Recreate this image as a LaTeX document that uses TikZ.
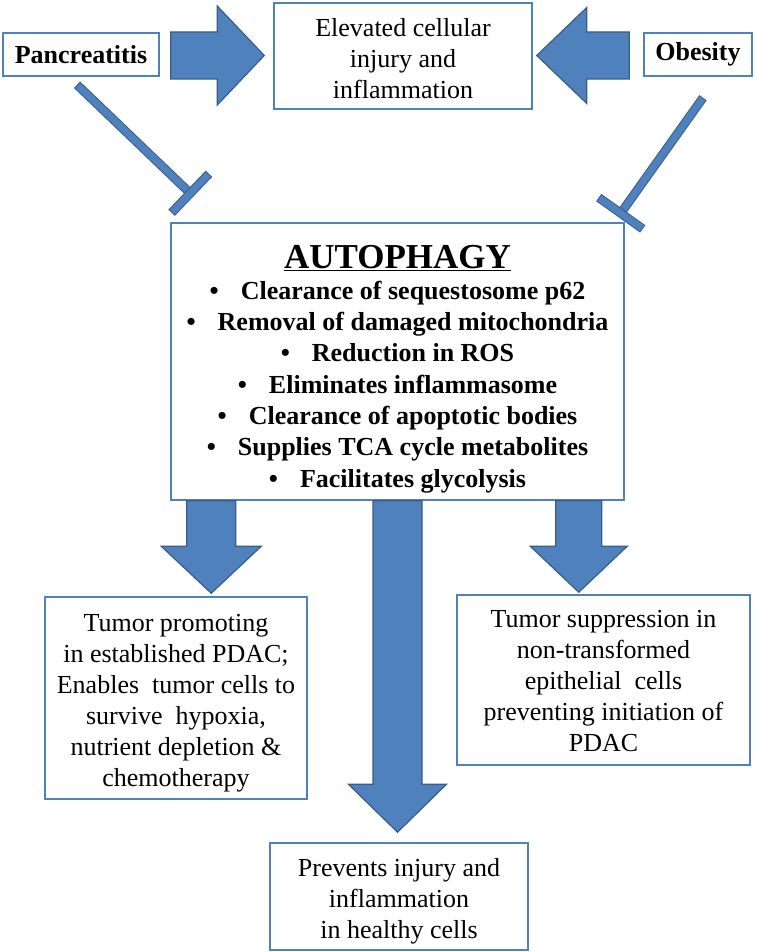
\documentclass[tikz,border=0pt]{standalone}
\usepackage{fontspec}
\setmainfont{Liberation Serif}
\usetikzlibrary{calc}
\definecolor{apblue}{HTML}{4F81BD}
\definecolor{apedge}{HTML}{385D8A}

% fat block arrows, sideways and downwards
\newcommand{\fatside}[5]{% start, tip, shaft half width, head half width, head length (signed)
  \filldraw[blockarrow] let \p1=(#1), \p2=(#2) in
    (\x1,\y1+#3) -- ({\x2-(#5)},\y1+#3) -- ({\x2-(#5)},\y1+#4) -- (\x2,\y1)
    -- ({\x2-(#5)},\y1-#4) -- ({\x2-(#5)},\y1-#3) -- (\x1,\y1-#3) -- cycle;}
\newcommand{\fatdown}[5]{% start, tip, shaft half width, head half width, head length
  \filldraw[blockarrow] let \p1=(#1), \p2=(#2) in
    (\x1-#3,\y1) -- (\x1+#3,\y1) -- (\x1+#3,\y2+#5) -- (\x1+#4,\y2+#5) -- (\x1,\y2)
    -- (\x1-#4,\y2+#5) -- (\x1-#3,\y2+#5) -- cycle;}
% inhibition line with a bar at the end
\newcommand{\inhibit}[2]{%
  \draw[inhibedge] (#1) -- (#2);
  \draw[inhibfill] (#1) -- (#2);
  \draw[inhibedge] ($(#2)!27pt!90:(#1)$) -- ($(#2)!27pt!-90:(#1)$);
  \draw[inhibfill] ($(#2)!27pt!90:(#1)$) -- ($(#2)!27pt!-90:(#1)$);}
% strut that pushes the first line down a little
\newcommand{\topstrut}[1]{\rule{0pt}{#1}}

\begin{document}
\begin{tikzpicture}[x=1pt, y=-1pt,
    box/.style={draw=apblue, line width=1.5pt, fill=white, align=center, inner sep=0pt,
      font=\fontsize{26}{31}\selectfont},
    blockarrow/.style={fill=apblue, draw=apedge, line width=1.2pt, line join=miter},
    inhibedge/.style={draw=apedge, line width=9pt},
    inhibfill/.style={draw=apblue, line width=7pt, shorten <=1pt, shorten >=1pt}]
  \useasboundingbox (0,0) rectangle (756,952);

  % top row
  \node[box, minimum width=156pt, minimum height=43pt] (panc) at (81,54.5) {\textbf{Pancreatitis}};
  \node[box, minimum width=258pt, minimum height=106pt] (elev) at (403,56)
    {\topstrut{24pt}Elevated cellular\\ injury and\\ inflammation};
  \node[box, minimum width=108pt, minimum height=43pt] (obes) at (698,54.5) {\textbf{Obesity}};

  % autophagy
  \node[box, minimum width=453pt, minimum height=277pt, font=\bfseries\fontsize{26}{31.3}\selectfont]
    (auto) at (397.5,361.5)
    {{\fontsize{35}{31.3}\selectfont\topstrut{38pt}\underline{AUTOPHAGY}}\\
     \textbullet\hspace{22pt}Clearance of sequestosome p62\\
     \textbullet\hspace{22pt}Removal of damaged mitochondria\\
     \textbullet\hspace{22pt}Reduction in ROS\\
     \textbullet\hspace{22pt}Eliminates inflammasome\\
     \textbullet\hspace{22pt}Clearance of apoptotic bodies\\
     \textbullet\hspace{22pt}Supplies TCA cycle metabolites\\
     \textbullet\hspace{22pt}Facilitates glycolysis};

  % outcomes
  \node[box, minimum width=262pt, minimum height=202pt] (promo) at (176,698)
    {\topstrut{28pt}Tumor promoting\\ in established PDAC;\\ Enables\ \ tumor cells to\\
     survive\ \ hypoxia,\\ nutrient depletion \&\\ chemotherapy};
  \node[box, minimum width=293pt, minimum height=170pt] (supp) at (603.5,680)
    {\topstrut{20pt}Tumor suppression in\\ non-transformed\\ epithelial\ \ cells\\
     preventing initiation of\\ PDAC};
  \node[box, minimum width=258pt, minimum height=107pt] (prev) at (399,896.5)
    {\topstrut{28pt}Prevents injury and\\ inflammation\\ in healthy cells};

  % block arrows
  \fatside{$(panc.east)+(11,1)$}{$(elev.west)+(-9,0)$}{23.5pt}{49.5pt}{47pt}
  \fatside{$(obes.west)+(-14,1)$}{$(elev.east)+(4,0)$}{23.5pt}{48pt}{-50pt}
  \fatdown{$(auto.south west)+(41,0)$}{$(promo.north)+(0,-3)$}{24.5pt}{50pt}{47pt}
  \fatdown{auto.south}{$(prev.north)+(0,-10)$}{24.5pt}{49pt}{48pt}
  \fatdown{$(auto.south east)+(-46,0)$}{$(supp.north)+(0,-2)$}{23pt}{48.5pt}{46pt}

  % inhibitions
  \coordinate (pstart) at ($(panc.south)+(-4,8)$);
  \coordinate (pbar) at ($(auto.north west)+(20,-29)$);
  \coordinate (ostart) at ($(obes.south)+(5,21)$);
  \coordinate (obar) at ($(auto.north east)+(-4,-9)$);
  \inhibit{pstart}{pbar}
  \inhibit{ostart}{obar}
\end{tikzpicture}
\end{document}
